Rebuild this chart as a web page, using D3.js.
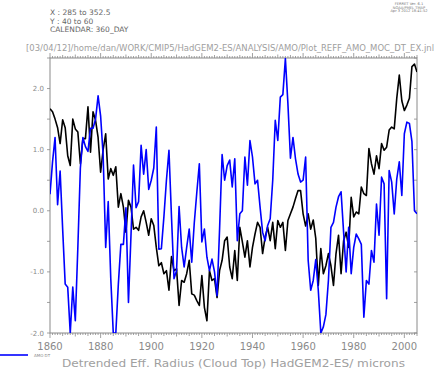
<!DOCTYPE html>
<html><head><meta charset="utf-8">
<script src="https://cdn.jsdelivr.net/npm/d3@7"></script>
<style>body{margin:0;background:#fff}svg{display:block}</style>
</head><body>
<script>
const years = d3.range(1860, 2006);
const amoDT = [
 0.27,0.8,1.2,0.1,0.65,-0.3,-1.2,-1.25,-2.0,-1.25,
 -1.8,-0.6,0.7,1.2,1.05,0.97,1.35,1.35,1.5,1.88,
 1.55,0.9,-0.6,0.15,-1.1,-2.0,-2.0,-1.2,-0.55,-0.55,
 0.05,-1.5,-0.4,0.75,0.05,0.15,1.07,0.6,1.0,0.35,
 0.5,0.7,1.37,-0.63,-0.62,-0.1,0.5,0.99,-0.1,-1.11,
 -0.98,0.07,-0.6,-0.92,-0.6,-0.3,-0.84,-0.2,0.3,0.77,
 -0.51,-0.3,-0.76,-0.98,-0.79,-1.0,-1.39,-0.3,0.92,0.5,
 0.74,0.83,0.39,0.85,-0.49,-0.05,0.0,0.88,0.42,1.15,
 0.88,0.44,0.5,0.06,-0.35,-0.49,-0.24,-0.13,0.5,1.48,
 1.15,1.86,1.9,2.49,1.75,0.86,1.2,0.85,0.6,0.47,
 0.5,0.88,-0.81,-1.3,-1.14,-0.8,-1.3,-2.0,-1.9,-1.7,
 -1.14,-0.27,-0.19,0.06,0.23,0.31,-0.35,-1.0,-0.27,-1.03,
 -0.6,-0.38,-0.46,-0.55,-1.74,-1.14,-1.2,-0.65,-0.84,0.11,
 -0.4,0.55,0.44,-1.44,0.66,0.47,-0.05,0.52,0.8,0.25,
 1.26,1.45,1.43,1.13,0.0,-0.05
];
const reffDT = [
 1.67,1.62,1.5,1.36,1.1,1.49,1.36,0.9,0.74,1.5,
 1.34,1.29,0.77,1.18,1.18,1.7,0.96,1.62,1.48,1.2,
 0.63,1.0,1.26,0.52,0.69,0.58,0.72,0.06,0.28,0.06,
 -0.35,0.17,0.06,-0.3,-0.27,-0.32,-0.1,0.0,-0.19,-0.4,
 -0.13,-0.24,-0.6,-0.9,-0.85,-1.03,-0.98,-1.3,-0.75,-0.98,
 -0.95,-1.55,-1.14,-1.17,-1.03,-0.81,-1.36,-1.38,-1.47,-1.55,
 -1.06,-1.58,-1.8,-0.98,-1.14,-1.11,-1.42,-0.98,-0.81,-0.49,
 -0.43,-0.92,-1.11,-0.65,-1.14,-0.27,-0.51,-0.76,-0.49,-0.92,
 -0.6,-0.38,-0.19,-0.27,-0.7,-0.43,-0.27,-0.49,-0.19,-0.62,
 -0.16,-0.27,-0.19,-0.65,-0.16,-0.05,0.06,0.2,0.33,0.33,
 -0.05,-0.25,-0.05,-0.3,-0.15,-0.45,-1.22,-0.62,-1.03,-0.9,
 -0.7,-0.9,-1.22,-0.7,-0.4,-1.03,-0.49,-0.35,-0.6,0.22,
 -0.1,-0.02,-0.05,0.39,0.28,0.25,1.02,0.77,0.6,0.9,
 0.69,1.1,0.99,1.04,1.32,1.37,1.34,1.84,2.22,1.8,
 1.64,1.73,1.84,2.36,2.4,2.27
];
const xTickLabels = [1860,1880,1900,1920,1940,1960,1980,2000];
const yTickLabels = [-2,-1,0,1,2];
const headerLines = ["X : 285 to 352.5","Y : 40 to 60","CALENDAR: 360_DAY"];
const stampLines = ["FERRET Ver. 6.1","NOAA/PMEL TMAP","Apr  3 2012 18:41:52"];
const titleText = "[03/04/12]/home/dan/WORK/CMIP5/HadGEM2-ES/ANALYSIS/AMO/Plot_REFF_AMO_MOC_DT_EX.jnl";
const xTitle = "Detrended Eff. Radius (Cloud Top) HadGEM2-ES/ microns";
const legendLabel = "AMO DT";

const W = 445, H = 371;
const L = 50, R = 417, T = 58, B = 333;
const svg = d3.select("body").append("svg").attr("width", W).attr("height", H);
const x = d3.scaleLinear().domain([1860, 2005]).range([L, R]);
const y = d3.scaleLinear().domain([-2, 2.5]).range([B, T]);
const gray = "#8a8a8a", font = "DejaVu Sans";

// header
svg.append("g").selectAll("text").data(headerLines).join("text")
  .attr("x", 50).attr("y", (d,i)=>15+i*8.5).attr("font-family", font).attr("font-size", 7.5)
  .attr("fill", "#666").text(d=>d);
svg.append("g").selectAll("text").data(stampLines).join("text")
  .attr("x", 409).attr("y", (d,i)=>5+i*3.6).attr("text-anchor","middle").attr("font-family", font).attr("font-size", 3.6)
  .attr("fill", "#777").text(d=>d);
svg.append("text").attr("x", 26).attr("y", 51)
  .attr("font-family", "'DejaVu Sans Condensed', 'DejaVu Sans'").attr("font-size", 9.2)
  .attr("fill", "#a0a0a0").attr("textLength", 408).attr("lengthAdjust","spacingAndGlyphs").text(titleText);

// frame
svg.append("rect").attr("x", L).attr("y", T).attr("width", R-L).attr("height", B-T)
  .attr("fill","none").attr("stroke", gray).attr("stroke-width", 1);

// x ticks bottom & top
const minorYears = d3.range(1860, 2006);
const tickLen = d => d % 20 === 0 ? 5 : (d % 10 === 0 ? 3.5 : (d % 5 === 0 ? 3 : 2));
const gx = svg.append("g").attr("stroke", gray).attr("stroke-width", 0.8);
minorYears.forEach(d => {
  gx.append("line").attr("x1", x(d)).attr("x2", x(d)).attr("y1", B).attr("y2", B + tickLen(d));
  gx.append("line").attr("x1", x(d)).attr("x2", x(d)).attr("y1", T).attr("y2", T - tickLen(d));
});
svg.append("g").selectAll("text").data(xTickLabels).join("text")
  .attr("x", d=>x(d)).attr("y", 350).attr("text-anchor","middle").attr("font-family", font)
  .attr("font-size", 10).attr("fill", gray).text(d=>d);

// y ticks
const yTicks = d3.range(-2, 2.51, 0.5);
const gy = svg.append("g").attr("stroke", gray).attr("stroke-width", 0.8);
yTicks.forEach(v => {
  gy.append("line").attr("x1", L).attr("x2", L - 3).attr("y1", y(v)).attr("y2", y(v));
  gy.append("line").attr("x1", R).attr("x2", R - 3).attr("y1", y(v)).attr("y2", y(v));
});
svg.append("g").selectAll("text").data(yTickLabels).join("text")
  .attr("x", 44).attr("y", d=>y(d)+2.5).attr("text-anchor","end").attr("font-family", font)
  .attr("font-size", 7).attr("fill", gray).text(d=>d.toFixed(1));

// lines
const clip = svg.append("clipPath").attr("id","c").append("rect")
  .attr("x", L).attr("y", T).attr("width", R-L).attr("height", B-T);
const line = d3.line().x((d,i)=>x(years[i])).y(d=>y(d));
svg.append("path").datum(reffDT).attr("d", line).attr("fill","none").attr("stroke","#000")
  .attr("stroke-width", 1.6).attr("clip-path","url(#c)").attr("stroke-linejoin","round");
svg.append("path").datum(amoDT).attr("d", line).attr("fill","none").attr("stroke","#0000ff")
  .attr("stroke-width", 1.6).attr("clip-path","url(#c)").attr("stroke-linejoin","round");

// legend
svg.append("line").attr("x1", 0).attr("x2", 28).attr("y1", 355).attr("y2", 355)
  .attr("stroke","#0000ff").attr("stroke-width", 1.6);
svg.append("text").attr("x", 34).attr("y", 357).attr("font-family", font).attr("font-size", 4)
  .attr("fill", "#888").text(legendLabel);

// x title
svg.append("text").attr("x", 62).attr("y", 367).attr("font-family", font).attr("font-size", 11)
  .attr("fill", "#a0a0a0").attr("textLength", 343).attr("lengthAdjust","spacingAndGlyphs").text(xTitle);
</script>
</body></html>
